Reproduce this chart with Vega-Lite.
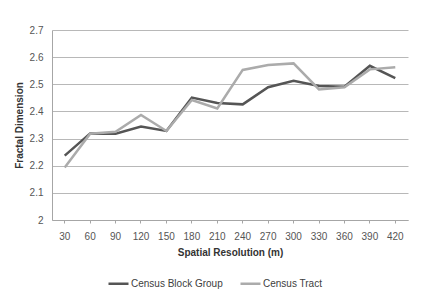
{
  "$schema": "https://vega.github.io/schema/vega-lite/v6.json",
  "width": 356,
  "height": 190,
  "autosize": "none",
  "padding": {"left": 52, "top": 30, "right": 16, "bottom": 82},
  "background": "white",
  "config": {
    "font": "Liberation Sans",
    "view": {"stroke": null},
    "axis": {
      "labelFont": "Liberation Sans",
      "titleFont": "Liberation Sans",
      "labelFontSize": 10,
      "labelColor": "#555555",
      "titleFontSize": 10,
      "titleFontWeight": "bold",
      "titleColor": "#333333",
      "domainColor": "#a6a6a6",
      "tickColor": "#a6a6a6",
      "gridColor": "#b8b8b8"
    }
  },
  "data": {
    "values": [
      {"res": 30, "series": "Census Block Group", "fd": 2.237},
      {"res": 60, "series": "Census Block Group", "fd": 2.319},
      {"res": 90, "series": "Census Block Group", "fd": 2.318},
      {"res": 120, "series": "Census Block Group", "fd": 2.344},
      {"res": 150, "series": "Census Block Group", "fd": 2.328},
      {"res": 180, "series": "Census Block Group", "fd": 2.451},
      {"res": 210, "series": "Census Block Group", "fd": 2.431},
      {"res": 240, "series": "Census Block Group", "fd": 2.426},
      {"res": 270, "series": "Census Block Group", "fd": 2.489},
      {"res": 300, "series": "Census Block Group", "fd": 2.513},
      {"res": 330, "series": "Census Block Group", "fd": 2.494},
      {"res": 360, "series": "Census Block Group", "fd": 2.491},
      {"res": 390, "series": "Census Block Group", "fd": 2.568},
      {"res": 420, "series": "Census Block Group", "fd": 2.523},
      {"res": 30, "series": "Census Tract", "fd": 2.193},
      {"res": 60, "series": "Census Tract", "fd": 2.318},
      {"res": 90, "series": "Census Tract", "fd": 2.325},
      {"res": 120, "series": "Census Tract", "fd": 2.387},
      {"res": 150, "series": "Census Tract", "fd": 2.328},
      {"res": 180, "series": "Census Tract", "fd": 2.442},
      {"res": 210, "series": "Census Tract", "fd": 2.411},
      {"res": 240, "series": "Census Tract", "fd": 2.553},
      {"res": 270, "series": "Census Tract", "fd": 2.571},
      {"res": 300, "series": "Census Tract", "fd": 2.577},
      {"res": 330, "series": "Census Tract", "fd": 2.481},
      {"res": 360, "series": "Census Tract", "fd": 2.489},
      {"res": 390, "series": "Census Tract", "fd": 2.555},
      {"res": 420, "series": "Census Tract", "fd": 2.563}
    ]
  },
  "mark": {"type": "line", "strokeWidth": 2.5, "strokeJoin": "miter"},
  "encoding": {
    "x": {
      "field": "res",
      "type": "ordinal",
      "sort": null,
      "scale": {"type": "band"},
      "axis": {
        "title": "Spatial Resolution (m)",
        "labelAngle": 0,
        "labelPadding": 8,
        "tickSize": 3,
        "titlePadding": 6,
        "grid": false
      }
    },
    "y": {
      "field": "fd",
      "type": "quantitative",
      "scale": {"domain": [2, 2.7], "nice": false, "zero": false},
      "axis": {
        "title": "Fractal Dimension",
        "values": [2, 2.1, 2.2, 2.3, 2.4, 2.5, 2.6, 2.7],
        "format": "~g",
        "tickSize": 0,
        "labelPadding": 9,
        "titlePadding": 5,
        "grid": true
      }
    },
    "color": {
      "field": "series",
      "type": "nominal",
      "scale": {"domain": ["Census Block Group", "Census Tract"], "range": ["#555555", "#ababab"]},
      "legend": {
        "title": null,
        "orient": "none",
        "direction": "horizontal",
        "legendX": 55,
        "legendY": 242,
        "symbolType": "stroke",
        "symbolStrokeWidth": 2.5,
        "symbolSize": 400,
        "labelFont": "Liberation Sans",
        "labelFontSize": 10,
        "labelColor": "#404040",
        "labelOffset": 1,
        "columnPadding": 12
      }
    }
  }
}
